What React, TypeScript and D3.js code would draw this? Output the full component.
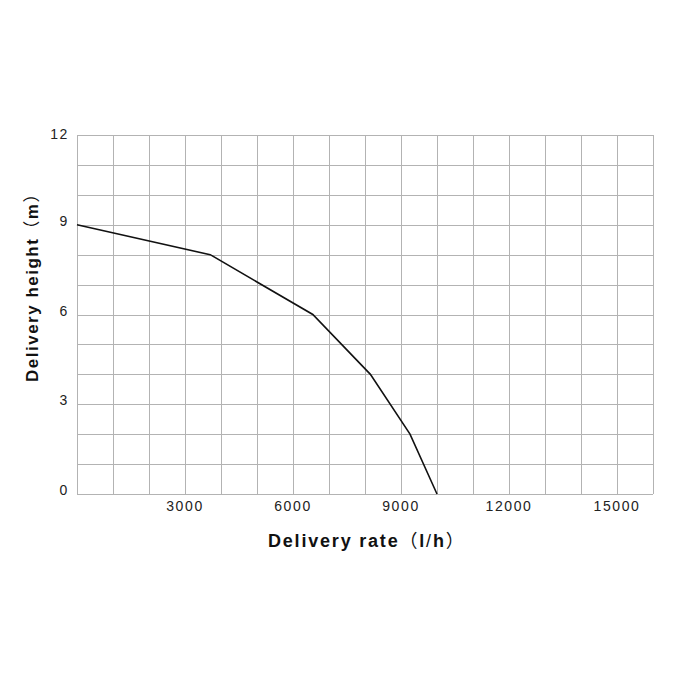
import React from "react";
import * as d3 from "d3";

const rates = [0, 3700, 6550, 8150, 9250, 10000];
const heights = [9, 8, 6, 4, 2, 0];
const xTicks = [3000, 6000, 9000, 12000, 15000];
const yTicks = [0, 3, 6, 9, 12];
const xTitleMain = "Delivery rate";
const xTitleUnit = ["l", "h"];
const yTitleMain = "Delivery height";
const yTitleUnit = "m";

const font = "'Liberation Sans', Arial, sans-serif";
const cjk = "'Noto Sans CJK SC', sans-serif";

function Title(props: { main: string; unit: string[]; transform: string; size: number; spacing: number }) {
  const { main, unit, transform, size, spacing } = props;
  return (
    <text
      transform={transform}
      fontFamily={font}
      fontWeight="bold"
      fontSize={size}
      letterSpacing={spacing}
      fill="#111"
    >
      <tspan>{main}</tspan>
      <tspan fontWeight="normal" fontFamily={cjk}>（</tspan>
      <tspan>{unit[0]}</tspan>
      {unit.length > 1 && (
        <>
          <tspan fontWeight="normal">/</tspan>
          <tspan>{unit[1]}</tspan>
        </>
      )}
      <tspan fontWeight="normal" fontFamily={cjk}>）</tspan>
    </text>
  );
}

export default function App() {
  const x = d3.scaleLinear().domain([0, 16000]).range([77, 653]);
  const y = d3.scaleLinear().domain([0, 12]).range([494, 135]);
  const xGrid = d3.range(0, 16001, 1000);
  const yGrid = d3.range(0, 13, 1);
  const line = d3
    .line<number>()
    .x((_, i) => x(rates[i]))
    .y((d) => y(d));
  return (
    <svg
      width={700}
      height={700}
      style={{ position: "absolute", left: 0, top: 0, background: "#fff" }}
    >
      <rect x={0} y={0} width={700} height={700} fill="#fff" />
      <g stroke="#b3b3b3" strokeWidth={1}>
        {xGrid.map((v) => (
          <line key={"gx" + v} x1={Math.round(x(v)) + 0.5} x2={Math.round(x(v)) + 0.5} y1={y(12)} y2={y(0)} />
        ))}
        {yGrid.map((v) => (
          <line key={"gy" + v} x1={x(0)} x2={x(16000)} y1={Math.round(y(v)) + 0.5} y2={Math.round(y(v)) + 0.5} />
        ))}
      </g>
      <path d={line(heights) || ""} fill="none" stroke="#111" strokeWidth={1.6} />
      <g fontFamily={font} fontSize={14} fill="#222">
        {xTicks.map((v) => (
          <text key={"xt" + v} x={x(v)} y={511} textAnchor="middle" letterSpacing={1.6}>
            {v}
          </text>
        ))}
        {yTicks.map((v) => (
          <text key={"yt" + v} x={69} y={y(v) + (v === 12 ? 4 : 1)} textAnchor="end" letterSpacing={1.6}>
            {v}
          </text>
        ))}
      </g>
      <Title main={xTitleMain} unit={xTitleUnit} transform="translate(268,547)" size={18} spacing={1.8} />
      <Title main={yTitleMain} unit={[yTitleUnit]} transform="translate(38,382) rotate(-90)" size={17} spacing={1.5} />
    </svg>
  );
}
